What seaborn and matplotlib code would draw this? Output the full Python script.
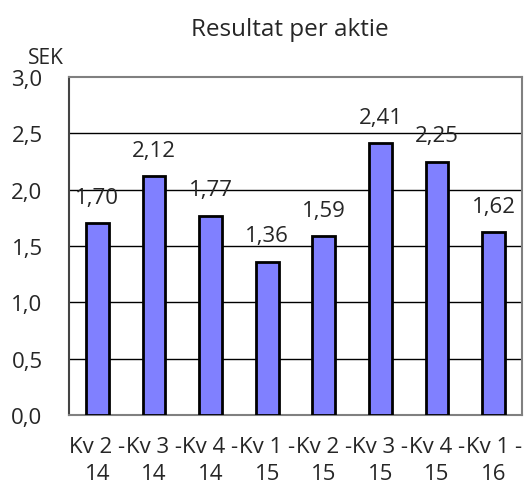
import matplotlib
matplotlib.use("Agg")
import matplotlib.pyplot as plt
import seaborn as sns
import pandas as pd

# data
kvartal = ["Kv 2 -\n14", "Kv 3 -\n14", "Kv 4 -\n14", "Kv 1 -\n15",
           "Kv 2 -\n15", "Kv 3 -\n15", "Kv 4 -\n15", "Kv 1 -\n16"]
resultat = [1.70, 2.12, 1.77, 1.36, 1.59, 2.41, 2.25, 1.62]
yticks = [0.0, 0.5, 1.0, 1.5, 2.0, 2.5, 3.0]

sns.set_style("white")
plt.rcParams['font.family'] = ['Open Sans', 'DejaVu Sans']

df = pd.DataFrame({"kvartal": kvartal, "resultat": resultat})

fig = plt.figure(figsize=(5.25, 4.89), dpi=100)
ax = fig.add_axes([69 / 525, 73 / 489, 453 / 525, 338 / 489])

sns.barplot(data=df, x="kvartal", y="resultat", color="#8080FF", saturation=1,
            width=0.4, edgecolor="black", linewidth=2, ax=ax, zorder=3)

ax.set_ylim(0, 3.0)
ax.set_xlim(-0.5, len(kvartal) - 0.5)
ax.set_yticks(yticks)
ax.set_yticklabels([f"{v:.1f}".replace(".", ",") for v in yticks], fontsize=16)
ax.tick_params(axis="y", direction="out", length=7, width=1, color="#444444", pad=12)
ax.tick_params(axis="x", length=0, pad=15)
for lab in ax.get_xticklabels():
    lab.set_fontsize(16)
    lab.set_linespacing(1.4)
ax.set_xlabel("")
ax.set_ylabel("")

for v in yticks[1:-1]:
    ax.axhline(v, color="black", linewidth=1, zorder=1)

for s in ["top", "right", "bottom"]:
    ax.spines[s].set_color("#808080")
    ax.spines[s].set_linewidth(1.5)
ax.spines["left"].set_color("#444444")
ax.spines["left"].set_linewidth(1.5)

for i, v in enumerate(resultat):
    ax.annotate(f"{v:.2f}".replace(".", ","), (i, v), xytext=(0, 11),
                textcoords="offset points", ha="center", va="bottom", fontsize=16)

fig.text(290 / 525, 1 - 30 / 489, "Resultat per aktie", ha="center", va="center", fontsize=17.5)
fig.text(46 / 525, 1 - 58 / 489, "SEK", ha="center", va="center", fontsize=15)

fig.savefig("out.png", dpi=100)
